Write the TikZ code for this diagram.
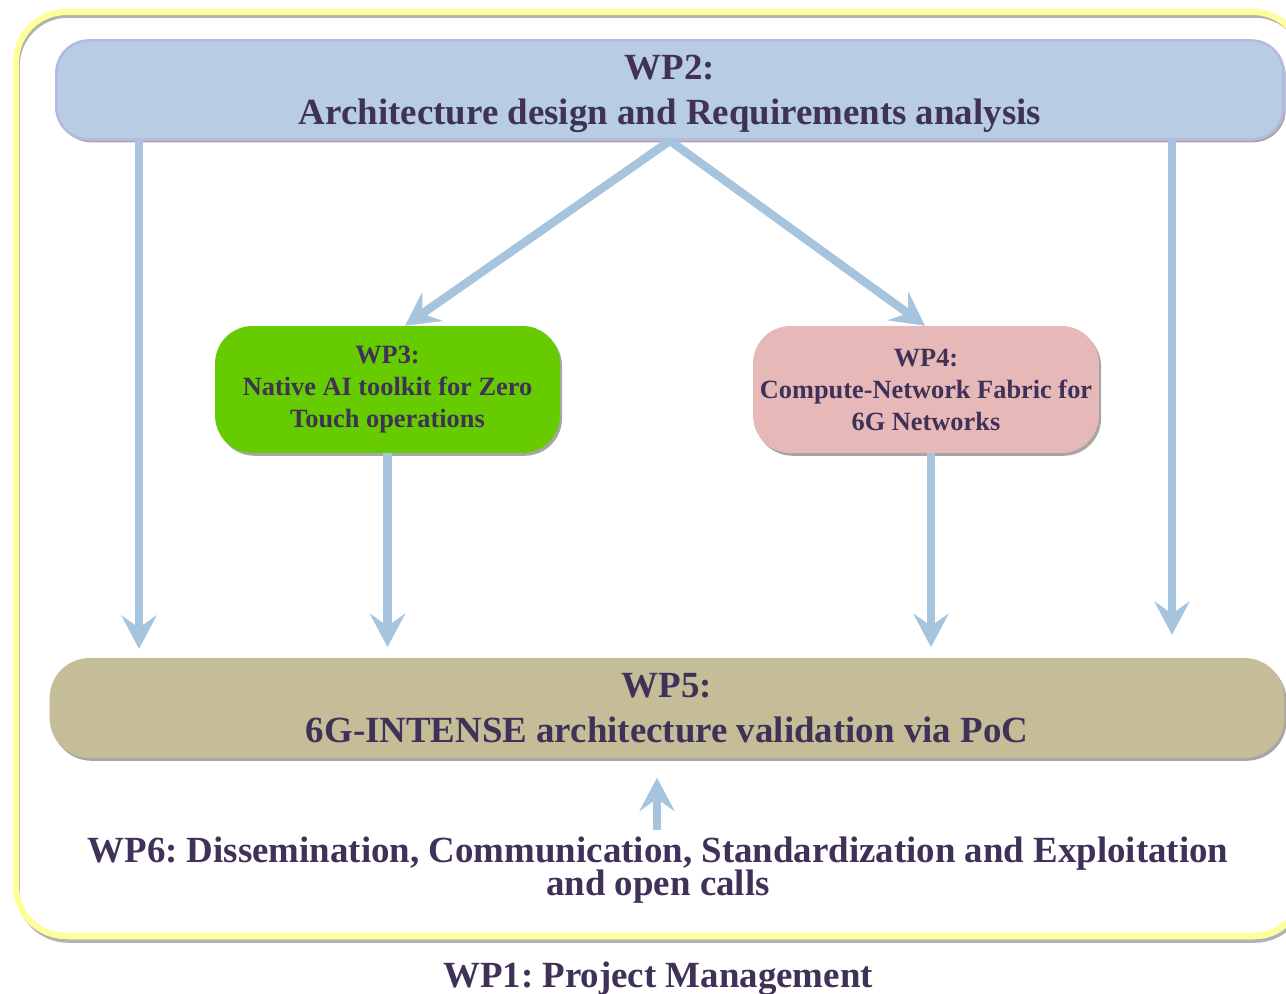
\documentclass[tikz,border=0pt]{standalone}
\usepackage{fontspec}
\setmainfont{Liberation Serif}
\usetikzlibrary{arrows.meta,shadows}
\frenchspacing

\definecolor{wptext}{RGB}{63,49,88}
\definecolor{flowblue}{RGB}{166,196,222}
\definecolor{wp2fill}{RGB}{184,204,228}
\definecolor{wp2line}{RGB}{180,186,224}
\definecolor{wp3fill}{RGB}{102,204,0}
\definecolor{wp4fill}{RGB}{230,184,183}
\definecolor{wp5fill}{RGB}{196,189,151}
\definecolor{frameyellow}{RGB}{255,255,153}

\begin{document}
\begin{tikzpicture}
    [x=0.02cm, y=-0.02cm,
    flow/.style={draw=flowblue, line width=4.8pt, -{Stealth[length=19pt,width=20pt,inset=7pt]}},
    wp/.style={rectangle, rounded corners=0.65cm, align=center, text=wptext, font=\bfseries,
      drop shadow={shadow xshift=1.2pt, shadow yshift=-1.6pt, fill=black!35, opacity=1}},
    big/.style={font=\fontsize{21}{25.5}\selectfont\bfseries},
    small/.style={font=\fontsize{15}{18.2}\selectfont\bfseries}]
    \useasboundingbox (0,0) rectangle (1286,994);
    % outer frame of the project
    \draw[black!30, line width=2pt, rounded corners=1cm] (18,16) rectangle (1305,941);
    \draw[frameyellow, line width=3.5pt, rounded corners=1cm] (16,12) rectangle (1303,936);
    % work packages
    \node [wp, big, fill=wp2fill, draw=wp2line, line width=1.5pt, text depth=0pt, minimum width=24.55cm, minimum height=1.98cm] (wp2) at (670,90)
      {WP2:\\Architecture design and Requirements analysis};
    \node [wp, small, fill=wp3fill, rounded corners=0.75cm, minimum width=6.9cm, minimum height=2.54cm] (wp3) at (387.5,389.5)
      {WP3:\\Native AI toolkit for Zero\\Touch operations};
    \node [wp, small, fill=wp4fill, rounded corners=0.75cm, minimum width=6.92cm, minimum height=2.54cm] (wp4) at (926,389.5)
      {WP4:\\Compute-Network Fabric for\\6G Networks};
    \node [wp, big, fill=wp5fill, rounded corners=0.8cm, minimum width=24.7cm, minimum height=2cm] (wp5) at (667,708)
      {WP5:\\6G-INTENSE architecture validation via PoC};
    \node [align=center, text=wptext, font=\fontsize{21}{17}\selectfont\bfseries] (wp6) at (658,870)
      {WP6: Dissemination, Communication, Standardization and Exploitation\\[-1pt]and open calls};
    \node [text=wptext, font=\fontsize{21}{24}\selectfont\bfseries] (wp1) at (658,979) {WP1: Project Management};
    % flows between packages
    \coordinate (lx) at (139,0);
    \coordinate (rx) at (1172,0);
    \draw[flow, shorten >=5pt] (wp2.south -| lx) -- (wp5.north -| lx);
    \draw[flow, shorten >=13pt] (wp2.south -| rx) -- (wp5.north -| rx);
    \draw[flow] (wp2.south) -- ([xshift=0.35cm]wp3.north);
    \draw[flow] (wp2.south) -- ([xshift=-0.02cm]wp4.north);
    \draw[flow, shorten >=6pt] (wp3) -- (wp5.north -| wp3);
    \draw[flow, shorten >=6pt] (wp4.south -| 931,0) -- (wp5.north -| 931,0);
    \draw[flow, shorten >=11pt] (wp6.north -| 657,0) -- (wp5.south -| 657,0);
\end{tikzpicture}
\end{document}
